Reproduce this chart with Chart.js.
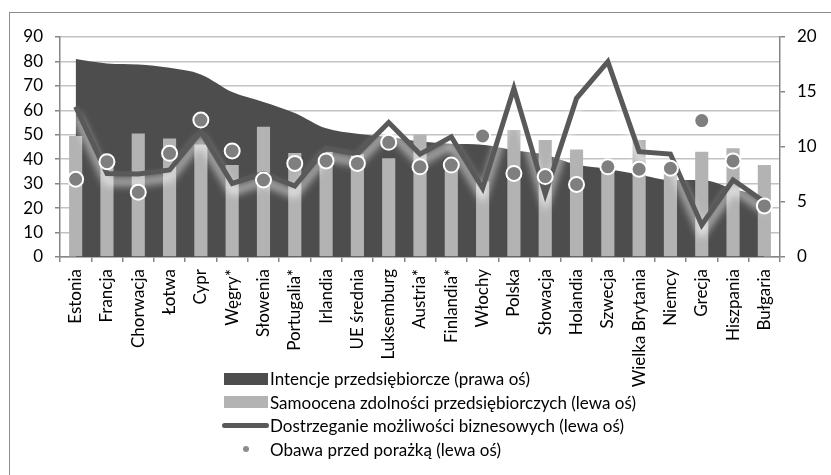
<!DOCTYPE html>
<html>
<head>
<meta charset="utf-8">
<script src="https://cdn.jsdelivr.net/npm/chart.js@4.4.0/dist/chart.umd.min.js"></script>
<style>
  body { margin: 0; background: #fff; }
  #wrap { position: relative; width: 831px; height: 475px; overflow: hidden; }
  #frame { position: absolute; left: 9px; top: 12px; width: 900px; height: 600px;
           border-top: 1px solid #8c8c8c; border-left: 1px solid #8c8c8c; }
  canvas { position: absolute; left: 0; top: 0; }
  #legend { position: absolute; left: 221px; top: 367px; font-family: Lato, sans-serif;
            font-size: 17px; color: #000; }
  .row { height: 23.5px; display: flex; align-items: center; }
  .sym { width: 49px; height: 12px; display: flex; align-items: center; justify-content: center; }
</style>
</head>
<body>
<div id="wrap">
  <div id="frame"></div>
  <canvas id="chart" width="831" height="475"></canvas>
  <div id="legend"></div>
</div>
<script>
const kraje = ['Estonia', 'Francja', 'Chorwacja', 'Łotwa', 'Cypr', 'Węgry*', 'Słowenia', 'Portugalia*',
  'Irlandia', 'UE średnia', 'Luksemburg', 'Austria*', 'Finlandia*', 'Włochy', 'Polska', 'Słowacja',
  'Holandia', 'Szwecja', 'Wielka Brytania', 'Niemcy', 'Grecja', 'Hiszpania', 'Bułgaria'];

// prawa oś
const intencje = [18.0, 17.6, 17.5, 17.2, 16.6, 15.0, 14.1, 13.1, 11.7, 11.2, 10.9, 10.5,
  10.3, 10.2, 9.7, 9.3, 8.4, 8.0, 7.5, 7.0, 7.0, 6.2, 5.5];

// lewa oś
const samoocena = [49.5, 38, 50.5, 48.5, 46, 37.6, 53.3, 42.5, 43, 42, 40.4, 50,
  37, 31, 52, 47.9, 44, 37, 47.9, 37, 43.1, 44.5, 37.6];
const dostrzeganie = [61.5, 34.2, 34, 35.6, 51.3, 30.1, 34.2, 29, 44.5, 42.1, 55, 42.1,
  49.2, 28.1, 69, 25.7, 64.9, 79.9, 43.1, 42.1, 13.1, 31.5, 22.6];
const obawa = [31.8, 39, 26.5, 42.4, 56, 43.4, 31.5, 38.3, 39.3, 38.3, 46.9, 36.9,
  37.6, 49.5, 34.2, 32.9, 29.7, 36.9, 35.9, 36.3, 55.8, 39.3, 20.9];

const lewaTicks = [0, 10, 20, 30, 40, 50, 60, 70, 80, 90];
const prawaTicks = [0, 5, 10, 15, 20];

const font = { family: 'Lato, sans-serif', size: 17 };

// biala poswiata pod linia (jak w Excelu)
const glowPlugin = {
  id: 'glow',
  beforeDatasetDraw(chart, args, opts) {
    const g = opts[args.index];
    if (!g) return;
    const c = chart.ctx;
    c.save();
    c.shadowColor = g.color;
    c.shadowBlur = g.blur;
    c.shadowOffsetY = g.offsetY;
  },
  afterDatasetDraw(chart, args, opts) {
    if (opts[args.index]) chart.ctx.restore();
  }
};

const chart = new Chart(document.getElementById('chart'), {
  type: 'bar',
  data: {
    labels: kraje,
    datasets: [
      {
        type: 'line',
        label: 'Intencje przedsiębiorcze (prawa oś)',
        data: intencje,
        yAxisID: 'y2',
        fill: 'origin',
        backgroundColor: '#4d4d4d',
        borderWidth: 0,
        pointRadius: 0,
        tension: 0.35,
        cubicInterpolationMode: 'monotone',
        order: 3
      },
      {
        type: 'bar',
        label: 'Samoocena zdolności przedsiębiorczych (lewa oś)',
        data: samoocena,
        yAxisID: 'y',
        backgroundColor: '#b3b3b3',
        barPercentage: 0.42,
        categoryPercentage: 1,
        order: 2
      },
      {
        type: 'line',
        label: 'Dostrzeganie możliwości biznesowych (lewa oś)',
        data: dostrzeganie,
        yAxisID: 'y',
        borderColor: '#595959',
        borderWidth: 5,
        pointRadius: 0,
        tension: 0,
        fill: false,
        order: 1
      },
      {
        type: 'line',
        label: 'Obawa przed porażką (lewa oś)',
        data: obawa,
        yAxisID: 'y',
        showLine: false,
        pointRadius: 7.5,
        pointBackgroundColor: '#7f7f7f',
        pointBorderColor: '#ffffff',
        pointBorderWidth: 2,
        order: 0
      }
    ]
  },
  options: {
    responsive: false,
    animation: false,
    layout: { padding: { top: 37 } },
    plugins: {
      legend: { display: false },
      tooltip: { enabled: false },
      glow: {
        2: { color: 'rgba(255,255,255,0.9)', blur: 9, offsetY: 8 }
      }
    },
    scales: {
      x: {
        afterFit: s => { s.height = 218; },
        grid: { offset: true, drawOnChartArea: false, tickLength: 5, tickColor: '#868686', lineWidth: 1.5 },
        border: { color: '#868686', width: 1.5 },
        ticks: { font: font, color: '#000', maxRotation: 90, minRotation: 90, autoSkip: false, padding: 7 }
      },
      y: {
        position: 'left',
        min: 0,
        max: 90,
        afterFit: s => { s.width = 60; },
        afterBuildTicks: s => { s.ticks = lewaTicks.map(v => ({ value: v })); },
        grid: { color: '#c2c2c2', lineWidth: 1.5, tickLength: 5, tickColor: '#868686' },
        border: { color: '#868686', width: 1.5 },
        ticks: { font: font, color: '#000', padding: 12 }
      },
      y2: {
        position: 'right',
        min: 0,
        max: 20,
        afterFit: s => { s.width = 51; },
        afterBuildTicks: s => { s.ticks = prawaTicks.map(v => ({ value: v })); },
        grid: { drawOnChartArea: false, tickLength: 5, tickColor: '#868686', lineWidth: 1.5 },
        border: { color: '#868686', width: 1.5 },
        ticks: { font: font, color: '#000', padding: 12 }
      }
    }
  },
  plugins: [glowPlugin]
});

// legenda pionowa pod wykresem
const legendEl = document.getElementById('legend');
chart.data.datasets.forEach(ds => {
  const row = document.createElement('div');
  row.className = 'row';
  const sym = document.createElement('span');
  sym.className = 'sym';
  const mark = document.createElement('span');
  if (ds.type === 'bar' || ds.fill === 'origin') {
    mark.style.cssText = 'width:44px;height:12px;background:' + ds.backgroundColor;
  } else if (ds.showLine === false) {
    mark.style.cssText = 'width:6px;height:6px;border-radius:50%;background:#8c8c8c';
  } else {
    mark.style.cssText = 'width:47px;height:5px;border-radius:3px;background:' + ds.borderColor;
  }
  sym.appendChild(mark);
  const txt = document.createElement('span');
  txt.textContent = ds.label;
  row.appendChild(sym);
  row.appendChild(txt);
  legendEl.appendChild(row);
});
</script>
</body>
</html>
